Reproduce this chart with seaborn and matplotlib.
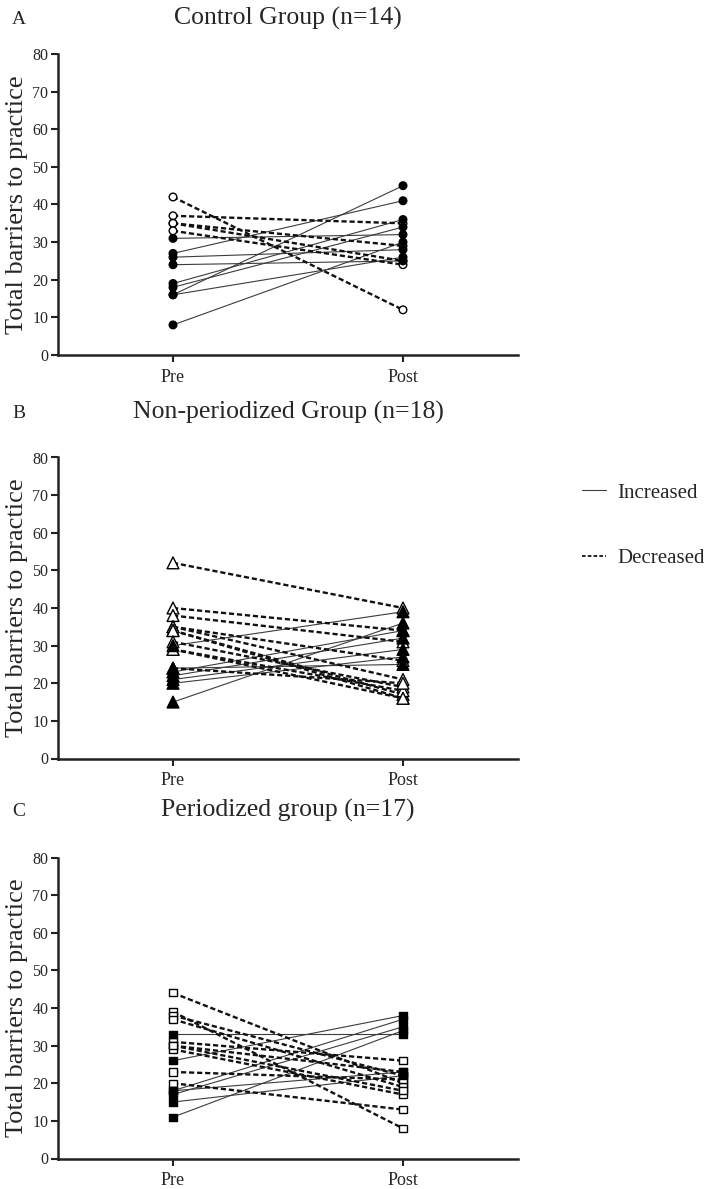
import numpy as np
import pandas as pd
import matplotlib
matplotlib.use("Agg")
import matplotlib.pyplot as plt
import seaborn as sns
from matplotlib.lines import Line2D

# ---------------- data ----------------
time_labels = ["Pre", "Post"]
ctrl_pre  = [16, 27, 19, 18, 31, 8, 26, 16, 24, 42, 37, 35, 35, 33]
ctrl_post = [45, 41, 36, 34, 32, 30, 28, 26, 25, 12, 35, 29, 25, 24]
nonp_pre  = [30, 15, 23, 22, 21, 20, 24, 52, 40, 38, 35, 35, 34, 34, 31, 29, 29, 24]
nonp_post = [39, 36, 34, 32, 29, 27, 25, 40, 34, 31, 26, 21, 17, 16, 19, 18, 16, 20]
per_pre   = [33, 26, 18, 17, 11, 18, 15, 44, 39, 38, 37, 31, 30, 29, 30, 23, 20]
per_post  = [33, 38, 37, 35, 34, 23, 22, 20, 8, 22, 19, 26, 23, 17, 18, 21, 13]
titles = ["Control Group (n=14)", "Non-periodized Group (n=18)", "Periodized group (n=17)"]
panel_letters = ["A", "B", "C"]
direction_labels = ["Increased", "Decreased"]
y_label = "Total barriers to practice"
y_ticks = [0, 10, 20, 30, 40, 50, 60, 70, 80]

# ---------------- style ----------------
sns.set_style("ticks")
plt.rcParams["font.family"] = ["Liberation Serif", "DejaVu Serif"]
plt.rcParams["axes.linewidth"] = 1.8

W, H = 709, 1189
fig = plt.figure(figsize=(W / 100, H / 100), dpi=100)

panels = [(ctrl_pre, ctrl_post, "o", 30), (nonp_pre, nonp_post, "^", 72), (per_pre, per_post, "s", 26)]
axis_bottom_px = [355, 758.5, 1158.5]
ax_h_px = 301
left_px, right_px = 58, 518
title_px = [18, 412, 810]


def long_df(pre, post):
    rows = []
    for i, (a, b) in enumerate(zip(pre, post)):
        d = direction_labels[0] if b >= a else direction_labels[1]
        rows.append(dict(subject=i, t=0, value=a, direction=d))
        rows.append(dict(subject=i, t=1, value=b, direction=d))
    return pd.DataFrame(rows)


for k, ((pre, post, mk, msize), bpx) in enumerate(zip(panels, axis_bottom_px)):
    ax = fig.add_axes([left_px / W, 1 - bpx / H, (right_px - left_px) / W, ax_h_px / H])
    df = long_df(pre, post)

    sns.lineplot(data=df, x="t", y="value", units="subject", estimator=None,
                 hue="direction", palette={"Increased": "#3c3c3c", "Decreased": "#111111"},
                 style="direction", dashes={"Increased": "", "Decreased": (2.2, 1.2)},
                 size="direction", sizes={"Increased": 0.8, "Decreased": 1.7},
                 legend=False, ax=ax, sort=False, zorder=2)

    df_s = pd.concat([df[df.direction == "Decreased"], df[df.direction == "Increased"]])
    sns.scatterplot(data=df_s, x="t", y="value", hue="direction",
                    palette={"Increased": "black", "Decreased": "white"},
                    marker=mk, s=msize, edgecolor="black", linewidth=1.0,
                    legend=False, ax=ax, zorder=3, clip_on=False)

    ax.set_xlim(-0.5, 1.5)
    ax.set_ylim(0, 80)
    ax.set_xticks([0, 1])
    ax.set_xticklabels(time_labels)
    ax.set_yticks(y_ticks)
    ax.tick_params(axis="y", labelsize=11.5, length=5, width=1.5, pad=2, color="#222222")
    ax.tick_params(axis="x", labelsize=13, length=5, width=1.5, pad=5, color="#222222")
    ax.set_xlabel("")
    ax.set_ylabel(y_label, fontsize=19, labelpad=3)
    for sp in ["top", "right"]:
        ax.spines[sp].set_visible(False)
    for sp in ["left", "bottom"]:
        ax.spines[sp].set_color("#222222")

    fig.text(288 / W, 1 - title_px[k] / H, titles[k], ha="center", va="center", fontsize=18.5)
    fig.text(12 / W, 1 - (title_px[k] + 2) / H, panel_letters[k], ha="left", va="center", fontsize=14)

handles = [Line2D([], [], color="#3c3c3c", lw=0.8, ls="-"),
           Line2D([], [], color="#111111", lw=1.3, ls=(0, (2.0, 1.2)))]
fig.legend(handles, direction_labels, loc="upper left",
           bbox_to_anchor=(582 / W, 1 - 483 / H), frameon=False, fontsize=15,
           handlelength=1.15, handletextpad=0.55, labelspacing=2.2,
           borderpad=0, borderaxespad=0)

fig.savefig("out.png", dpi=100)
